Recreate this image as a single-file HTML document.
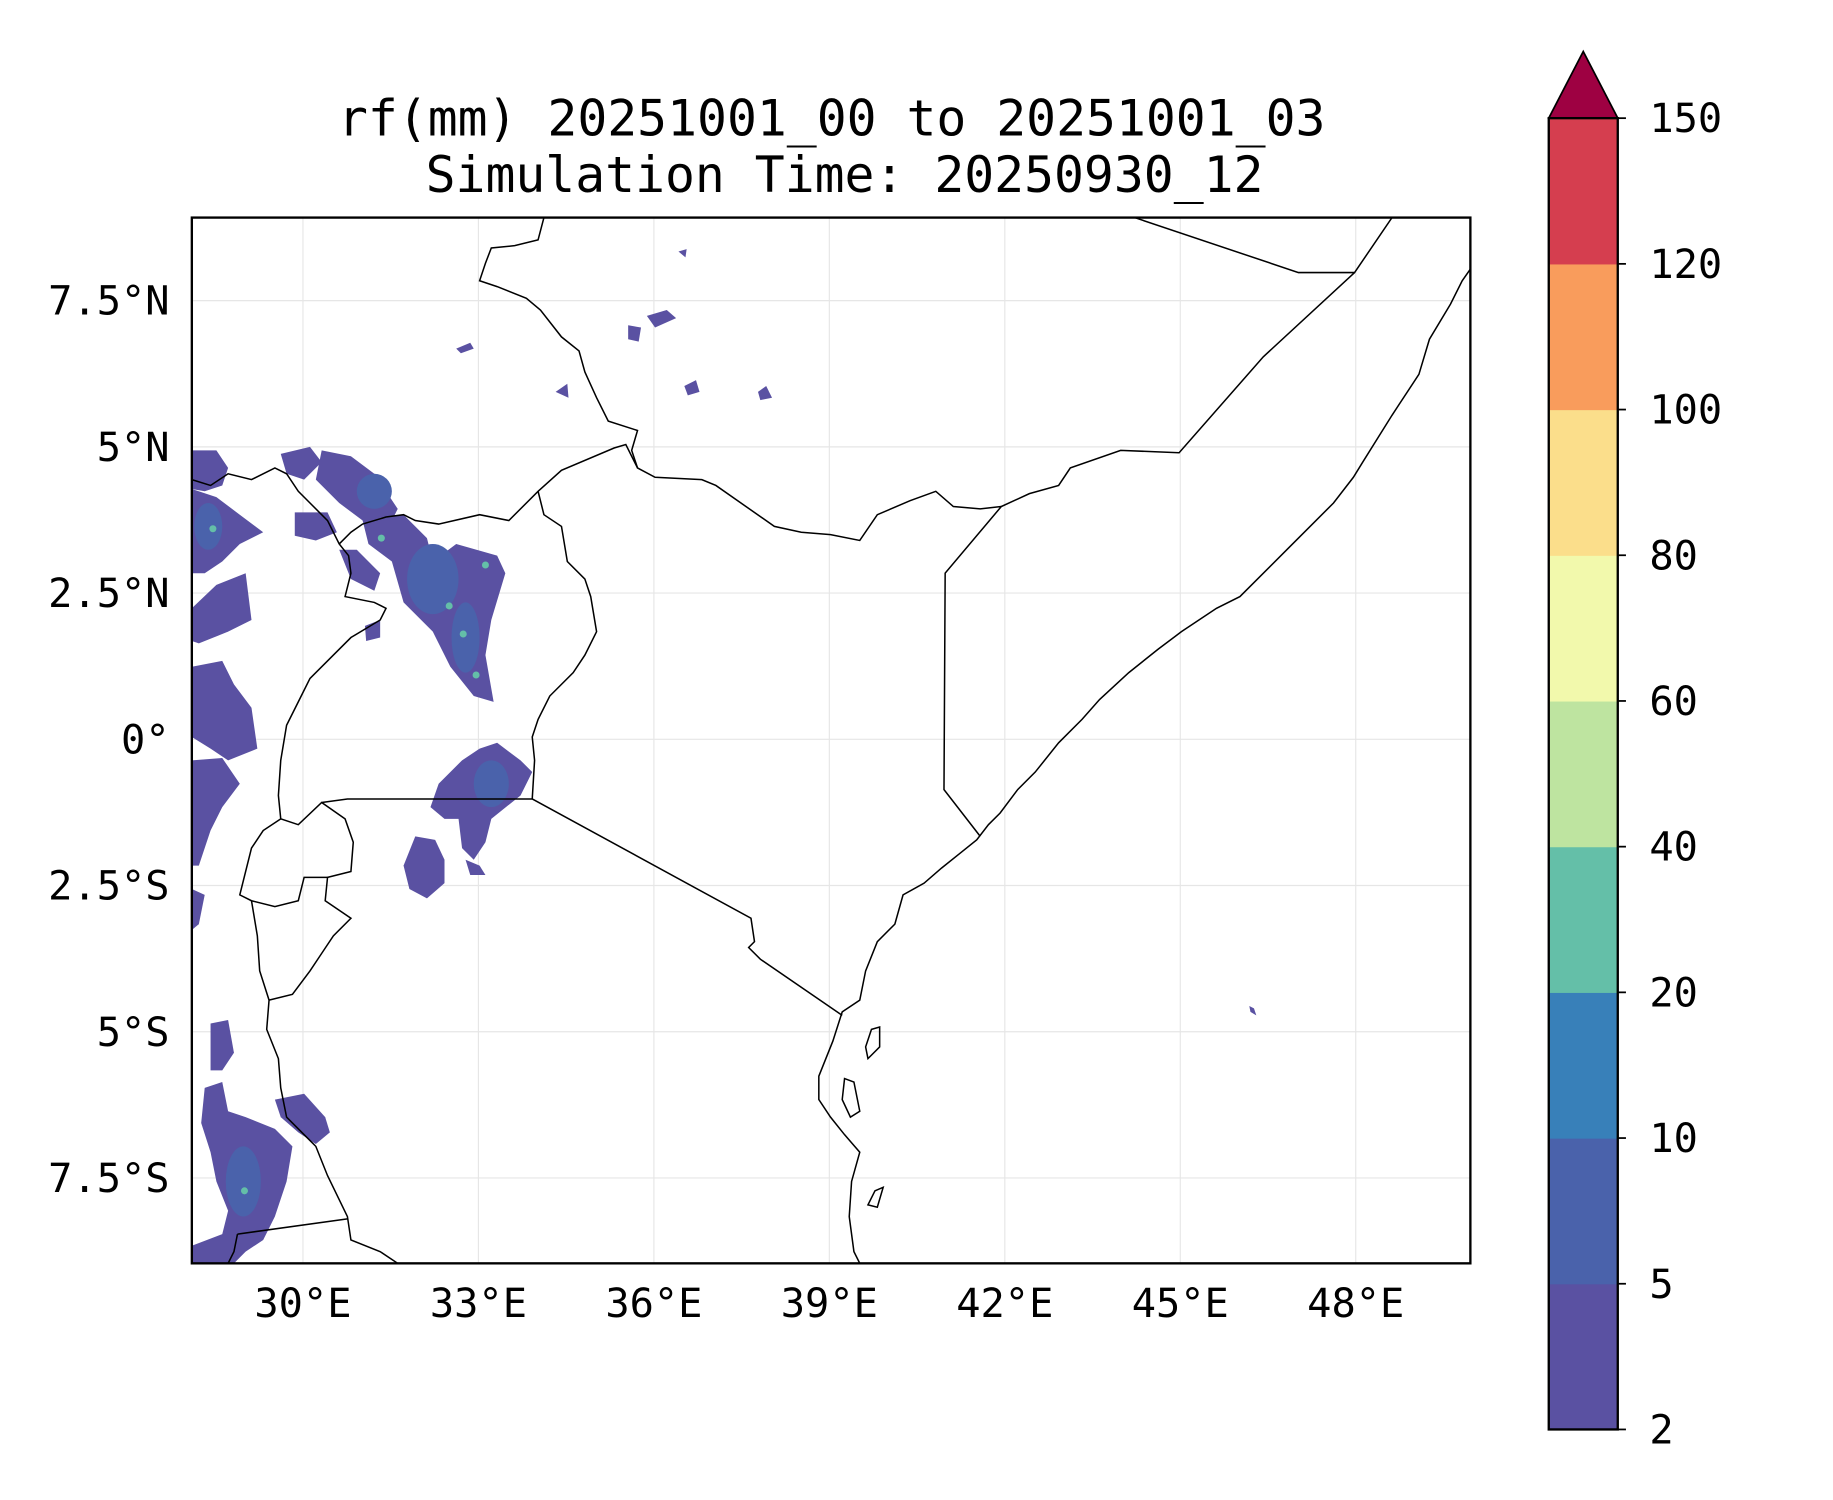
<!DOCTYPE html>
<html><head><meta charset="utf-8">
<style>
html,body{margin:0;padding:0;background:#fff;}
svg{display:block;font-family:"DejaVu Sans Mono","Liberation Mono",monospace;}
</style></head>
<body>
<svg id="chart" xmlns="http://www.w3.org/2000/svg" width="1833" height="1500" viewBox="0 0 1567 1282.3">
<rect width="1567" height="1282.3" fill="#fff"/>
<text x="711" y="116" font-size="42.5" text-anchor="middle">rf(mm) 20251001_00 to 20251001_03</text>
<text x="722" y="164" font-size="42.5" text-anchor="middle">Simulation Time: 20250930_12</text>
<defs><clipPath id="plotclip"><rect x="164" y="186" width="1093" height="894"/></clipPath></defs>
<g id="grid"></g>
<g clip-path="url(#plotclip)">
<g fill="#5a51a2" stroke="none">
<path d="M164,385 L185,385 L195,400 L190,415 L175,420 L164,418Z"/>
<path d="M164,418 L185,425 L205,440 L225,455 L205,465 L190,480 L175,490 L164,490Z"/>
<path d="M164,520 L185,500 L210,490 L215,530 L195,540 L170,550 L164,548Z"/>
<path d="M164,570 L190,565 L200,585 L215,605 L220,640 L195,650 L180,640 L164,630Z"/>
<path d="M164,650 L190,648 L205,670 L190,690 L180,710 L170,740 L164,740Z"/>
<path d="M164,760 L175,765 L170,790 L164,795Z"/>
<path d="M240,388 L265,382 L275,395 L260,410 L245,405Z"/>
<path d="M275,385 L300,390 L320,405 L340,435 L330,455 L310,445 L290,430 L270,410Z"/>
<path d="M252,438 L280,438 L288,455 L270,462 L252,458Z"/>
<path d="M290,470 L305,470 L325,490 L320,505 L300,495Z"/>
<path d="M310,445 L345,440 L365,460 L370,480 L390,465 L425,475 L432,490 L420,530 L415,560 L422,600 L405,595 L385,570 L370,540 L345,515 L335,480 L315,465Z"/>
<path d="M312,535 L325,530 L325,545 L313,548Z"/>
<path d="M410,640 L425,635 L445,650 L455,660 L445,680 L420,700 L415,720 L405,735 L395,725 L392,700 L380,700 L368,690 L375,670 L395,650Z"/>
<path d="M355,715 L372,718 L380,735 L380,755 L365,768 L350,760 L345,740Z"/>
<path d="M398,735 L410,740 L415,748 L402,748Z"/>
<path d="M180,875 L195,872 L200,900 L190,915 L180,915Z"/>
<path d="M175,930 L190,925 L195,950 L210,955 L235,965 L250,980 L245,1010 L235,1040 L225,1060 L210,1070 L200,1080 L164,1080 L164,1065 L190,1055 L195,1035 L185,1010 L180,985 L172,960Z"/>
<path d="M235,940 L260,935 L278,955 L282,968 L270,978 L255,968 L240,955Z"/>
<path d="M537,278 L548,280 L546,292 L537,290Z"/>
<path d="M553,270 L570,265 L578,272 L560,280Z"/>
<path d="M585,330 L595,325 L598,335 L588,338Z"/>
<path d="M475,335 L485,328 L486,340Z"/>
<path d="M390,298 L402,293 L405,298 L394,302Z"/>
<path d="M648,335 L655,330 L660,340 L650,342Z"/>
<path d="M580,215 L587,213 L586,220Z"/>
<path d="M1068,860 L1072,862 L1074,868 L1069,865Z"/>
</g>
<g fill="#4a62ab">
<ellipse cx="178" cy="450" rx="12" ry="20"/>
<ellipse cx="370" cy="495" rx="22" ry="30"/>
<ellipse cx="398" cy="545" rx="12" ry="30"/>
<ellipse cx="420" cy="670" rx="15" ry="20"/>
<ellipse cx="208" cy="1010" rx="15" ry="30"/>
<ellipse cx="320" cy="420" rx="15" ry="15"/>
</g>
<g fill="#64bfa8">
<circle cx="182" cy="452" r="3"/>
<circle cx="326" cy="460" r="3"/>
<circle cx="384" cy="518" r="3"/>
<circle cx="396" cy="542" r="3"/>
<circle cx="407" cy="577" r="3"/>
<circle cx="415" cy="483" r="3"/>
<circle cx="209" cy="1018" r="3"/>
</g>
<g fill="none" stroke="#000" stroke-width="1.3">
<path d="M1257,230 L1250,240 L1240,260 L1222,290 L1213,320 L1190,355 L1165,395 L1157,408 L1140,430 L1100,470 L1060,510 L1040,520 L1010,540 L990,555 L965,575 L940,598 L925,615 L905,635 L885,660 L870,675 L855,695 L845,705 L835,718 L820,730 L805,742 L790,755 L772,765 L765,790 L750,805 L740,830 L735,855 L720,865 L712,890 L700,920 L700,940 L710,955 L722,970 L735,985 L728,1010 L726,1040 L730,1070 L735,1080"/>
<path d="M970,186 L1110,233 L1158,233 L1190,186"/>
<path d="M1158,233 L1080,305 L1008,387 L958,385 L915,400 L905,415 L880,422 L856,433 L808,490 L807,675 L838,715"/>
<path d="M856,433 L838,435 L815,433 L800,420 L778,428 L750,440 L735,462 L710,457 L685,455 L662,450 L612,415 L600,410 L560,408 L545,400 L540,385 L545,368 L520,360 L510,340 L500,318 L495,300 L480,288 L462,265 L450,255 L425,245 L410,240 L415,225 L420,212 L440,210 L460,205 L465,186"/>
<path d="M545,400 L535,380 L525,383 L480,402 L460,420 L435,445 L410,440 L375,448 L355,445 L345,440 L330,442 L310,448 L300,455 L290,465"/>
<path d="M460,420 L465,440 L480,450 L485,480 L500,495 L505,510 L510,540 L500,560 L490,575 L470,595 L460,615 L455,630 L457,650 L455,683"/>
<path d="M455,683 L642,785 L645,805 L640,810 L650,820 L720,868"/>
<path d="M455,683 L297,683 L275,686"/>
<path d="M164,410 L180,415 L195,405 L215,410 L235,400 L245,405 L255,420 L265,430 L280,445 L290,465 L298,475 L300,490 L295,510 L320,515 L330,520 L325,530 L300,545 L285,560 L265,580 L255,600 L245,620 L240,650 L238,680 L240,700 L255,705 L275,686 L295,700 L302,720 L300,745 L280,750 L278,770 L300,785 L285,800 L275,815 L265,830 L250,850 L230,855"/>
<path d="M240,700 L225,710 L215,725 L210,745 L205,765 L215,770 L235,775 L255,770 L260,750 L280,750"/>
<path d="M215,770 L220,800 L222,830 L230,855 L228,880 L238,905 L240,930 L245,955 L260,970 L270,980 L280,1005 L297,1040 L300,1060 L325,1070 L340,1080 L355,1080"/>
<path d="M203,1055 L297,1042"/>
<path d="M203,1055 L200,1070 L195,1080"/>
<path d="M745,880 L752,878 L752,895 L742,905 L740,895Z"/>
<path d="M722,922 L730,925 L735,950 L727,955 L720,940Z"/>
<path d="M748,1018 L755,1015 L750,1032 L742,1030Z"/>
</g>
</g>
<rect x="164" y="186" width="1093" height="894" fill="none" stroke="#000" stroke-width="2"/>
<g id="axes" font-size="34.5"></g>
<g id="cbar" font-size="34.5"></g>
<script>
const lonTicks = [30, 33, 36, 39, 42, 45, 48];
const lonLabels = ["30°E","33°E","36°E","39°E","42°E","45°E","48°E"];
const latTicks = [7.5, 5, 2.5, 0, -2.5, -5, -7.5];
const latLabels = ["7.5°N","5°N","2.5°N","0°","2.5°S","5°S","7.5°S"];
const cbarLevels = [2, 5, 10, 20, 40, 60, 80, 100, 120, 150];
const cbarColors = ["#5a51a2","#4a62ab","#3880b9","#64bfa8","#bee4a0","#f2f9ac","#fbde8b","#f99c5c","#d53e4f"];
const extendColor = "#9e0142";
const NS = "http://www.w3.org/2000/svg";
function xOf(lon){ return 259 + (lon - 30) * 50; }
function yOf(lat){ return 632 - lat * 50; }
function mk(tag, attrs, parent){ const e = document.createElementNS(NS, tag); for (const k in attrs) e.setAttribute(k, attrs[k]); parent.appendChild(e); return e; }
const grid = document.getElementById('grid');
const axes = document.getElementById('axes');
lonTicks.forEach((lon, i) => {
  const l = mk('line', {x1: xOf(lon), x2: xOf(lon), y1: 186, y2: 1080, stroke: '#e6e6e6', 'stroke-width': 1}, grid);
  
  
  const t = mk('text', {x: xOf(lon), y: 1126, 'text-anchor': 'middle'}, axes);
  t.textContent = lonLabels[i];
  
  
});
latTicks.forEach((lat, i) => {
  const l = mk('line', {x1: 164, x2: 1257, y1: yOf(lat), y2: yOf(lat), stroke: '#e6e6e6', 'stroke-width': 1}, grid);
  
  
  const t = mk('text', {x: 145, y: yOf(lat) + 12, 'text-anchor': 'end'}, axes);
  t.textContent = latLabels[i];
  
  
});
const cb = document.getElementById('cbar');
const cbX = 1324, cbW = 59, cbTop = 101, cbBot = 1222;
const step = (cbBot - cbTop) / (cbarLevels.length - 1);
function cbY(i){ return cbBot - i * step; }
cbarColors.forEach((c, i) => {
  const r = mk('rect', {x: cbX, y: cbY(i + 1), width: cbW, height: step + 0.5, fill: c}, cb);
  
  
});
const tri = mk('polygon', {points: `${cbX},${cbTop} ${cbX + cbW},${cbTop} ${cbX + cbW / 2},${44}`, fill: extendColor, stroke: '#000', 'stroke-width': 1.5}, cb);


const fr = mk('rect', {x: cbX, y: cbTop, width: cbW, height: cbBot - cbTop, fill: 'none', stroke: '#000', 'stroke-width': 2}, cb);


cbarLevels.forEach((v, i) => {
  const tk = mk('line', {x1: cbX + cbW, x2: cbX + cbW + 7, y1: cbY(i), y2: cbY(i), stroke: '#000', 'stroke-width': 1.5}, cb);
  
  
  const t = mk('text', {x: 1410, y: cbY(i) + 12}, cb);
  t.textContent = v;
  
  
});
</script>
</svg>
</body></html>
